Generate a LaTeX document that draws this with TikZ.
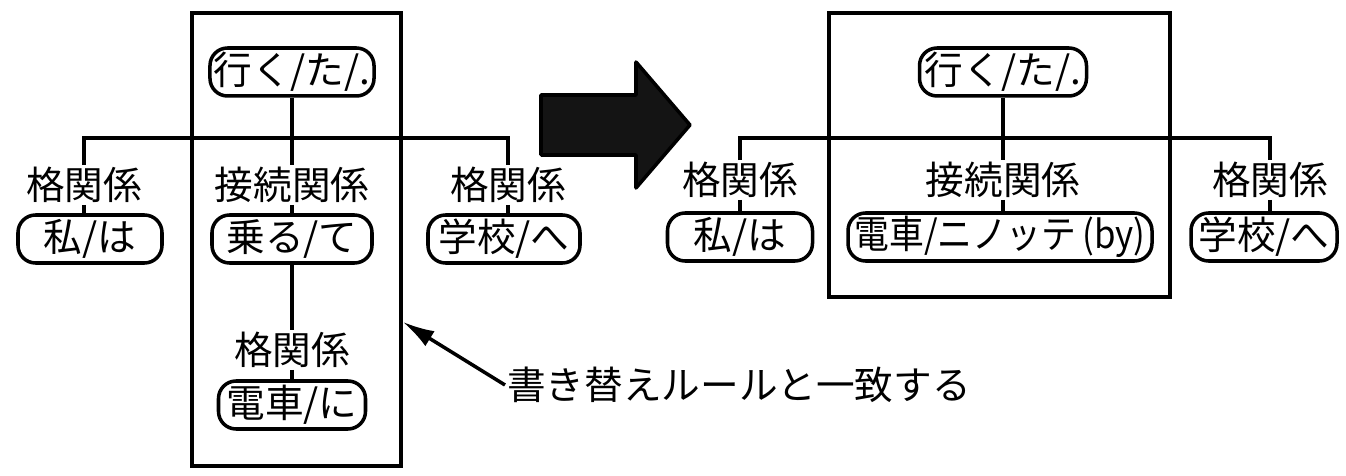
\documentclass[tikz,border=0pt]{standalone}
\usepackage{fontspec}
\setmainfont{Noto Sans CJK JP}
\newfontfamily\narrowjp[FakeStretch=0.9]{Noto Sans CJK JP}
\usetikzlibrary{arrows.meta}
\tikzset{
  unit/.style={draw, rounded corners=10pt, line width=2pt, inner xsep=2pt,
    inner ysep=0pt, minimum height=0.96cm, minimum width=#1*0.02cm},
  unit/.default=100,
  rel/.style={inner sep=1pt},
  frame/.style={line width=2pt},
  link/.style={line width=2pt},
}
\begin{document}
\begin{tikzpicture}[x=0.02cm, y=-0.02cm, font=\fontsize{22}{26}\selectfont]
  \useasboundingbox (0,0) rectangle (1346,476);
  % before
  \draw[frame] (192,13) rectangle (401,466);
  \node[unit=162] (r1) at (292,72) {行く/た/.};
  \node[rel] (k1) at (84,185) {格関係};
  \node[rel] (c1) at (292,185) {接続関係};
  \node[rel] (k2) at (508,185) {格関係};
  \node[unit=144] (n1) at (90,239) {私/は};
  \node[unit=160] (n2) at (292,239) {乗る/て};
  \node[unit=152] (n3) at (504,239) {学校/へ};
  \node[rel] (k3) at (292,350) {格関係};
  \node[unit=147] (n4) at (292,405) {電車/に};
  \coordinate (b1) at (0,138);
  \begin{scope}[link]
    \draw (k1.north) -- (k1.north |- b1) -- (k2.north |- b1) -- (k2.north);
    \draw (r1) -- (c1);
    \draw (k1) -- (k1 |- n1.north);
    \draw (c1) -- (n2);
    \draw (k2) -- (k2 |- n3.north);
    \draw (n2) -- (k3);
    \draw (k3) -- (n4);
  \end{scope}
  % rule note
  \node[rel, anchor=west] (note) at (505,385) {書き替えルールと一致する};
  \coordinate (tip) at (403,322);
  \draw[line width=2pt, -{Latex[length=18pt, width=10pt]}] (note.west) -- (tip);
  % big arrow
  \draw[line width=2pt, fill=black!92, line join=round]
    (541,95) -- (636,95) -- (636,62) -- (690,125) -- (636,188) -- (636,155)
    -- (541,155) -- cycle;
  % after
  \draw[frame] (829,13) rectangle (1170,297);
  \node[unit=167] (r2) at (1003,72) {行く/た/.};
  \node[rel] (k4) at (740,180) {格関係};
  \node[rel] (c2) at (1003,180) {接続関係};
  \node[rel] (k5) at (1270,180) {格関係};
  \node[unit=145] (n5) at (740,237) {私/は};
  \node[unit=304] (n6) at (1000,237) {\narrowjp 電車/ニノッテ\,(by)};
  \node[unit=146] (n7) at (1264,237) {学校/へ};
  \coordinate (b2) at (0,138);
  \begin{scope}[link]
    \draw (k4.north) -- (k4.north |- b2) -- (k5.north |- b2) -- (k5.north);
    \draw (r2) -- (c2);
    \draw (k4) -- (n5);
    \draw (c2) -- (c2 |- n6.north);
    \draw (k5) -- (k5 |- n7.north);
  \end{scope}
\end{tikzpicture}
\end{document}
